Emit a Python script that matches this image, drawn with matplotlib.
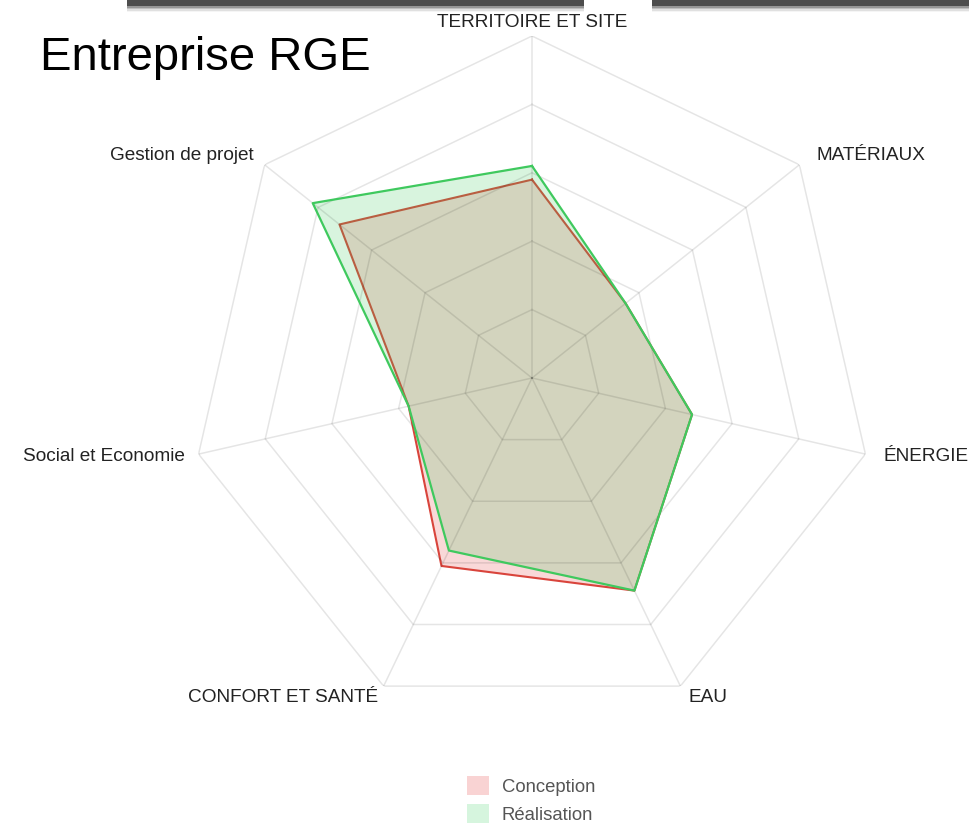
import numpy as np
import matplotlib
matplotlib.use('Agg')
import matplotlib.pyplot as plt
from matplotlib.patches import Patch, Rectangle

plt.rcParams['font.family'] = ['Liberation Sans', 'DejaVu Sans']

# axes of the radar, clockwise from the top
categories = ['TERRITOIRE ET SITE', 'MATÉRIAUX', 'ÉNERGIE', 'EAU',
              'CONFORT ET SANTÉ', 'Social et Economie', 'Gestion de projet']
conception = [58, 35, 48, 69, 61, 37, 72]
realisation = [62, 35, 48, 69, 56, 37, 82]
series_names = ['Conception', 'Réalisation']
ring_levels = [20, 40, 60, 80, 100]

W, H = 970, 825
fig = plt.figure(figsize=(W / 100, H / 100), dpi=100)

# centre (532, 378) px, outer radius 342 px
cx, cy, R = 532, 378, 342
ax = fig.add_axes([(cx - R) / W, (H - cy - R) / H, 2 * R / W, 2 * R / H], projection='polar')
ax.set_theta_offset(np.pi / 2)
ax.set_theta_direction(-1)
ax.set_ylim(0, 100)
ax.grid(False)
ax.set_xticks([])
ax.set_yticks([])
ax.spines['polar'].set_visible(False)
ax.patch.set_alpha(0)

n = len(categories)
theta = np.arange(n) * 2 * np.pi / n
theta_c = np.append(theta, theta[0])

# heptagon rings and spokes
grid_col = (0, 0, 0, 0.1)
for lv in ring_levels:
    ax.plot(theta_c, [lv] * (n + 1), color=grid_col, lw=1.1, zorder=3.5)
for t in theta:
    ax.plot([t, t], [0, 100], color=grid_col, lw=1.1, zorder=3.5)

red_fill = (0.886, 0.235, 0.235, 0.2)
green_fill = (0.235, 0.784, 0.353, 0.2)
red_line = '#d9443c'
green_line = '#3fc95e'

# red series sits under the green fill
c = conception + conception[:1]
r = realisation + realisation[:1]
ax.fill(theta_c, c, color=red_fill, lw=0, zorder=2)
ax.plot(theta_c, c, color=red_line, lw=1.5, zorder=2.5)
ax.fill(theta_c, r, color=green_fill, lw=0, zorder=3)
ax.plot(theta_c, r, color=green_line, lw=1.6, zorder=5)

# category labels around the outer ring (offsets in points)
label_pos = [
    ((0, 10), 'center', 'center'),
    ((12, 7), 'left', 'center'),
    ((13, -2), 'left', 'center'),
    ((6, -8), 'left', 'center'),
    ((-4, -8), 'right', 'center'),
    ((-10, -2), 'right', 'center'),
    ((-8, 7), 'right', 'center'),
]
for t, name, (off, ha, va) in zip(theta, categories, label_pos):
    ax.annotate(name, xy=(t, 100), xytext=off, textcoords='offset points',
                ha=ha, va=va, fontsize=13.7, color='#222222', annotation_clip=False)

fig.text(40 / W, 1 - 70 / H, 'Entreprise RGE', fontsize=34, color='black',
         ha='left', va='baseline')

# dark window bars along the top edge
for x0, x1 in [(127, 584), (652, 975)]:
    for k, a in enumerate([0.9, 0.7, 0.45, 0.25, 0.1]):
        fig.patches.append(Rectangle((x0 / W, 1 - (6 + k * 1.5) / H), (x1 - x0) / W, (6 + k * 1.5) / H,
                                     transform=fig.transFigure, facecolor=(0.3, 0.3, 0.3, a * 0.5),
                                     edgecolor='none'))
    fig.patches.append(Rectangle((x0 / W, 1 - 6 / H), (x1 - x0) / W, 6 / H, transform=fig.transFigure,
                                 facecolor='#4d4d4d', edgecolor='none'))

handles = [Patch(facecolor='#f9d3d3', edgecolor='none'),
           Patch(facecolor='#d6f5de', edgecolor='none')]
fig.legend(handles, series_names, loc='center', bbox_to_anchor=(531 / W, 1 - 800 / H),
           frameon=False, fontsize=13.3, labelcolor='#555555', handlelength=1.19,
           handleheight=1.19, handletextpad=0.7, labelspacing=0.43)

fig.savefig('out.png', dpi=100)
